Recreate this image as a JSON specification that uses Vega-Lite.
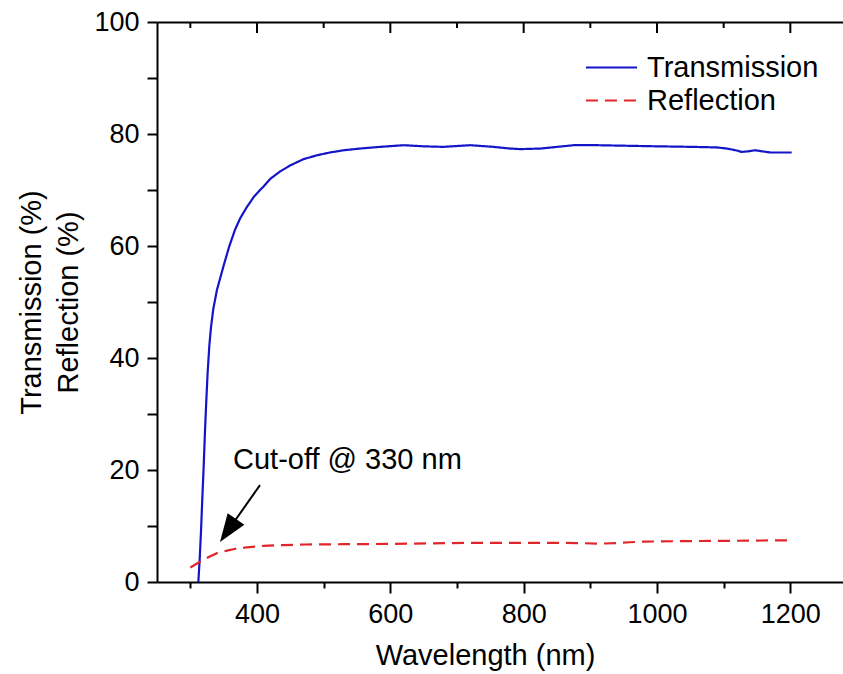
{
  "$schema": "https://vega.github.io/schema/vega-lite/v6.json",
  "width": 686,
  "height": 560,
  "autosize": {"type": "none"},
  "padding": {"left": 157, "top": 22, "right": 0, "bottom": 92},
  "background": "white",
  "config": {
    "view": {"stroke": null},
    "font": "Liberation Sans",
    "axis": {
      "domainColor": "black", "domainWidth": 2,
      "tickColor": "black", "tickWidth": 2,
      "labelColor": "black", "titleColor": "black",
      "labelFont": "Liberation Sans", "titleFont": "Liberation Sans",
      "labelFontSize": 27, "titleFontSize": 29, "titleFontWeight": "normal",
      "grid": false
    }
  },
  "datasets": {
    "spectra": [
      {"series": "Transmission", "wl": 312, "val": 0},
      {"series": "Transmission", "wl": 314, "val": 4},
      {"series": "Transmission", "wl": 316, "val": 9},
      {"series": "Transmission", "wl": 318, "val": 15},
      {"series": "Transmission", "wl": 320, "val": 20.6},
      {"series": "Transmission", "wl": 322, "val": 27},
      {"series": "Transmission", "wl": 324, "val": 32.5},
      {"series": "Transmission", "wl": 326, "val": 37.5},
      {"series": "Transmission", "wl": 328.5, "val": 42.2},
      {"series": "Transmission", "wl": 331, "val": 45.5},
      {"series": "Transmission", "wl": 334.5, "val": 48.8},
      {"series": "Transmission", "wl": 340, "val": 52.2},
      {"series": "Transmission", "wl": 349.5, "val": 56.3},
      {"series": "Transmission", "wl": 358, "val": 59.8},
      {"series": "Transmission", "wl": 367, "val": 62.9},
      {"series": "Transmission", "wl": 375, "val": 65},
      {"series": "Transmission", "wl": 384.5, "val": 66.9},
      {"series": "Transmission", "wl": 396, "val": 68.9},
      {"series": "Transmission", "wl": 409.5, "val": 70.6},
      {"series": "Transmission", "wl": 420, "val": 72},
      {"series": "Transmission", "wl": 434.5, "val": 73.3},
      {"series": "Transmission", "wl": 450, "val": 74.4},
      {"series": "Transmission", "wl": 469.5, "val": 75.5},
      {"series": "Transmission", "wl": 490, "val": 76.2},
      {"series": "Transmission", "wl": 509.5, "val": 76.7},
      {"series": "Transmission", "wl": 530, "val": 77.1},
      {"series": "Transmission", "wl": 554.5, "val": 77.4},
      {"series": "Transmission", "wl": 584.5, "val": 77.7},
      {"series": "Transmission", "wl": 620, "val": 78.0},
      {"series": "Transmission", "wl": 650, "val": 77.8},
      {"series": "Transmission", "wl": 680, "val": 77.7},
      {"series": "Transmission", "wl": 720, "val": 78.0},
      {"series": "Transmission", "wl": 755, "val": 77.7},
      {"series": "Transmission", "wl": 780, "val": 77.4},
      {"series": "Transmission", "wl": 795, "val": 77.3},
      {"series": "Transmission", "wl": 825, "val": 77.4},
      {"series": "Transmission", "wl": 850, "val": 77.7},
      {"series": "Transmission", "wl": 875, "val": 78.0},
      {"series": "Transmission", "wl": 910, "val": 78.0},
      {"series": "Transmission", "wl": 955, "val": 77.9},
      {"series": "Transmission", "wl": 1000, "val": 77.8},
      {"series": "Transmission", "wl": 1055, "val": 77.7},
      {"series": "Transmission", "wl": 1090, "val": 77.6},
      {"series": "Transmission", "wl": 1105, "val": 77.4},
      {"series": "Transmission", "wl": 1118, "val": 77.1},
      {"series": "Transmission", "wl": 1127, "val": 76.8},
      {"series": "Transmission", "wl": 1137, "val": 76.9},
      {"series": "Transmission", "wl": 1147, "val": 77.1},
      {"series": "Transmission", "wl": 1158, "val": 76.9},
      {"series": "Transmission", "wl": 1170, "val": 76.7},
      {"series": "Transmission", "wl": 1202, "val": 76.7},
      {"series": "Reflection", "wl": 300, "val": 2.6},
      {"series": "Reflection", "wl": 310, "val": 3.3},
      {"series": "Reflection", "wl": 319, "val": 3.9},
      {"series": "Reflection", "wl": 330, "val": 4.6},
      {"series": "Reflection", "wl": 341, "val": 5.2},
      {"series": "Reflection", "wl": 355, "val": 5.6},
      {"series": "Reflection", "wl": 366, "val": 5.9},
      {"series": "Reflection", "wl": 385, "val": 6.2},
      {"series": "Reflection", "wl": 410, "val": 6.45},
      {"series": "Reflection", "wl": 440, "val": 6.6},
      {"series": "Reflection", "wl": 473, "val": 6.7},
      {"series": "Reflection", "wl": 530, "val": 6.75},
      {"series": "Reflection", "wl": 600, "val": 6.8},
      {"series": "Reflection", "wl": 660, "val": 6.9},
      {"series": "Reflection", "wl": 726, "val": 7.0},
      {"series": "Reflection", "wl": 790, "val": 7.0},
      {"series": "Reflection", "wl": 852, "val": 7.0},
      {"series": "Reflection", "wl": 880, "val": 6.95},
      {"series": "Reflection", "wl": 915, "val": 6.85},
      {"series": "Reflection", "wl": 940, "val": 6.95},
      {"series": "Reflection", "wl": 959, "val": 7.1},
      {"series": "Reflection", "wl": 978, "val": 7.2},
      {"series": "Reflection", "wl": 1041, "val": 7.3},
      {"series": "Reflection", "wl": 1104, "val": 7.35},
      {"series": "Reflection", "wl": 1150, "val": 7.4},
      {"series": "Reflection", "wl": 1200, "val": 7.45}
    ],
    "label": [{"wl": 364, "val": 20.2, "text": "Cut-off @ 330 nm"}],
    "arrow": [{"wl": 404.5, "val": 17.3, "wl2": 356.5, "val2": 9.2}],
    "head": [{"wl": 356.5, "val": 9.2}],
    "topMajor": [{"wl": 400}, {"wl": 600}, {"wl": 800}, {"wl": 1000}, {"wl": 1200}],
    "topMinor": [{"wl": 300}, {"wl": 500}, {"wl": 700}, {"wl": 900}, {"wl": 1100}]
  },
  "layer": [
    {
      "data": {"name": "spectra"},
      "mark": {"type": "line", "strokeWidth": 2.2, "clip": true},
      "encoding": {
        "x": {
          "field": "wl", "type": "quantitative",
          "scale": {"domain": [250, 1279], "nice": false, "zero": false},
          "axis": {
            "orient": "bottom", "title": "Wavelength (nm)", "format": "d",
            "values": [400, 600, 800, 1000, 1200],
            "tickSize": 11, "labelPadding": 8, "titlePadding": 14, "titleX": 328
          }
        },
        "y": {
          "field": "val", "type": "quantitative",
          "scale": {"domain": [0, 100], "nice": false},
          "axis": {
            "title": ["Transmission (%)", "Reflection (%)"],
            "values": [0, 10, 20, 30, 40, 50, 60, 70, 80, 90, 100],
            "labelExpr": "datum.value % 20 === 0 ? datum.label : ''",
            "format": "d",
            "tickSize": 10, "labelPadding": 8, "titlePadding": 10, "titleLineHeight": 37
          }
        },
        "color": {
          "field": "series", "type": "nominal",
          "scale": {"domain": ["Transmission", "Reflection"], "range": ["#1414c8", "#e0262b"]},
          "legend": {
            "title": null, "orient": "none", "legendX": 437, "legendY": 28,
            "symbolType": "M-1.55,0H1.55", "symbolSize": 1089, "symbolStrokeWidth": 2,
            "labelFontSize": 29, "labelFont": "Liberation Sans", "labelColor": "black",
            "labelOffset": 18, "labelLimit": 0, "rowPadding": 0, "padding": 0
          }
        },
        "strokeDash": {
          "field": "series", "type": "nominal",
          "scale": {"domain": ["Transmission", "Reflection"], "range": [[1, 0], [12, 7]]},
          "legend": {
            "title": null, "orient": "none", "legendX": 437, "legendY": 28,
            "symbolType": "M-1.55,0H1.55", "symbolSize": 1089, "symbolStrokeWidth": 2,
            "labelFontSize": 29, "labelFont": "Liberation Sans", "labelColor": "black",
            "labelOffset": 18, "labelLimit": 0, "rowPadding": 0, "padding": 0
          }
        }
      }
    },
    {
      "data": {"name": "label"},
      "mark": {"type": "text", "align": "left", "baseline": "alphabetic", "fontSize": 29, "font": "Liberation Sans", "color": "black"},
      "encoding": {
        "x": {
          "field": "wl", "type": "quantitative",
          "axis": {"orient": "top", "labels": false, "title": null, "ticks": false, "domain": true}
        },
        "y": {"field": "val", "type": "quantitative"},
        "text": {"field": "text"}
      }
    },
    {
      "data": {"name": "arrow"},
      "mark": {"type": "rule", "strokeWidth": 2, "color": "black"},
      "encoding": {
        "x": {
          "field": "wl", "type": "quantitative",
          "axis": {
            "orient": "bottom", "labels": false, "title": null, "domain": false,
            "values": [300, 500, 700, 900, 1100],
            "tickSize": 6
          }
        },
        "x2": {"field": "wl2"},
        "y": {"field": "val", "type": "quantitative"},
        "y2": {"field": "val2"}
      }
    },
    {
      "data": {"name": "head"},
      "mark": {"type": "point", "filled": true, "opacity": 1, "color": "black", "shape": "M0,-1L0.73,1L-0.73,1Z", "size": 784, "angle": 215},
      "encoding": {
        "x": {"field": "wl", "type": "quantitative", "axis": null},
        "y": {"field": "val", "type": "quantitative"}
      }
    },
    {
      "data": {"name": "topMajor"},
      "mark": {"type": "tick", "orient": "vertical", "color": "black", "opacity": 1, "size": 11, "thickness": 2, "yOffset": 5.5},
      "encoding": {
        "x": {"field": "wl", "type": "quantitative", "axis": null},
        "y": {"datum": 100, "type": "quantitative"}
      }
    },
    {
      "data": {"name": "topMinor"},
      "mark": {"type": "tick", "orient": "vertical", "color": "black", "opacity": 1, "size": 6, "thickness": 2, "yOffset": 3},
      "encoding": {
        "x": {"field": "wl", "type": "quantitative", "axis": null},
        "y": {"datum": 100, "type": "quantitative"}
      }
    }
  ],
  "resolve": {"axis": {"x": "independent"}}
}
